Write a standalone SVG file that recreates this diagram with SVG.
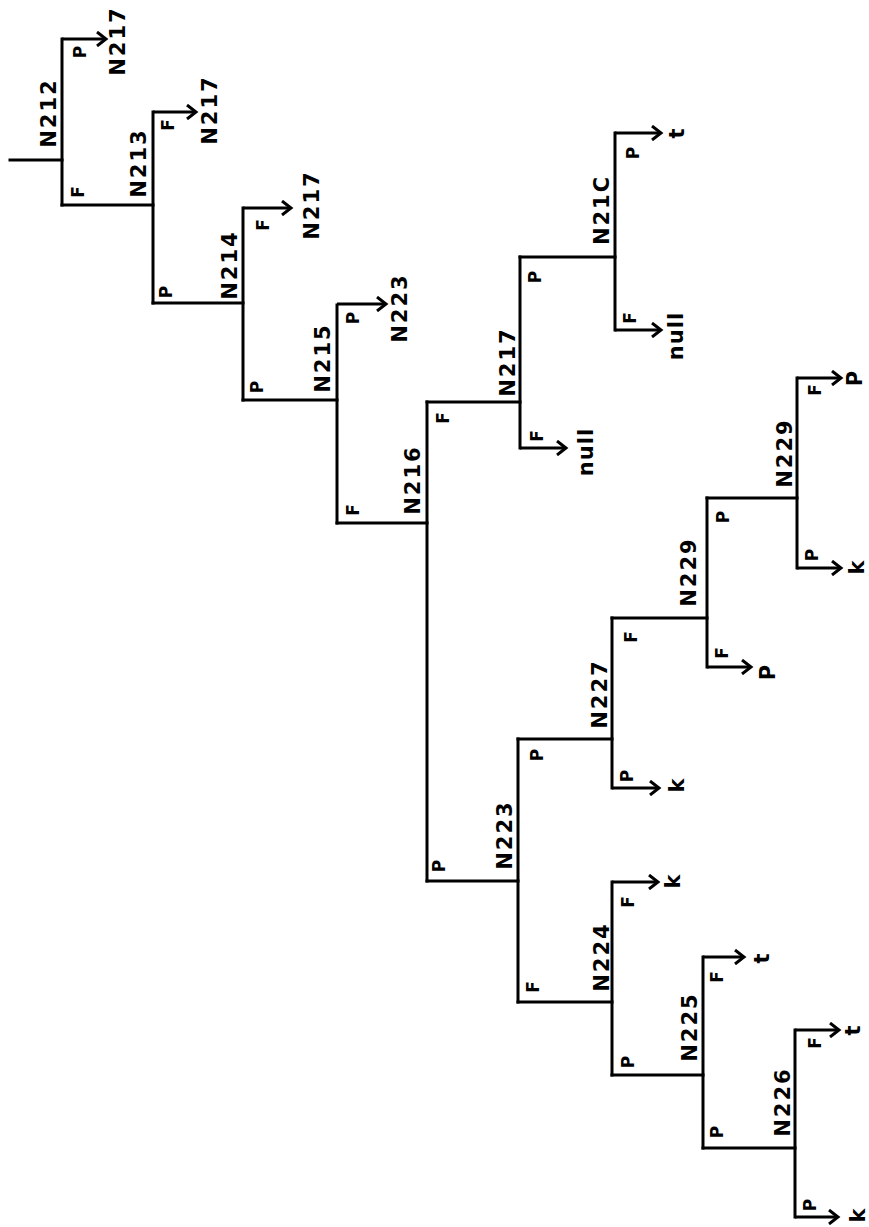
<svg xmlns="http://www.w3.org/2000/svg" width="869" height="1227" viewBox="0 0 869 1227">
<style>
.bg{fill:#fff}
.ln{stroke:#000;stroke-width:3;fill:none;stroke-linecap:square}
.ar{stroke:#000;stroke-width:3;fill:none;marker-end:url(#ah)}
.nl{font-family:"DejaVu Sans",sans-serif;font-weight:bold;font-size:21px;letter-spacing:2px;text-anchor:middle;dominant-baseline:central;fill:#000}
.bl{font-family:"DejaVu Sans",sans-serif;font-weight:bold;font-size:17px;text-anchor:middle;dominant-baseline:central;fill:#000}
.tl{font-family:"DejaVu Sans",sans-serif;font-weight:bold;font-size:21px;letter-spacing:1px;text-anchor:middle;dominant-baseline:central;fill:#000}
</style>
<defs>
<marker id="ah" markerUnits="userSpaceOnUse" markerWidth="14" markerHeight="16" refX="11" refY="8" orient="auto">
<path d="M2,1 L11,8 L2,15" stroke="#000" stroke-width="3" fill="none"/>
</marker>
</defs>
<rect class="bg" x="0" y="0" width="869" height="1227"/>
<g id="connectors">
<path class="ln" d="M10,160 H62"/>
<path class="ar" d="M62,39 H106"/>
<path class="ln" d="M62,205 H153"/>
<path class="ar" d="M153,112 H196"/>
<path class="ln" d="M153,303 H243"/>
<path class="ar" d="M243,208 H291"/>
<path class="ln" d="M243,400 H337"/>
<path class="ar" d="M337,304 H386"/>
<path class="ln" d="M337,523 H427"/>
<path class="ln" d="M427,402 H520"/>
<path class="ln" d="M427,881 H518"/>
<path class="ln" d="M520,257 H615"/>
<path class="ar" d="M520,448 H566"/>
<path class="ar" d="M615,133 H661"/>
<path class="ar" d="M615,330 H661"/>
<path class="ln" d="M518,739 H612"/>
<path class="ln" d="M518,1002 H612"/>
<path class="ln" d="M612,618 H707"/>
<path class="ar" d="M612,788 H659"/>
<path class="ln" d="M707,498 H797"/>
<path class="ar" d="M707,667 H751"/>
<path class="ar" d="M797,378 H841"/>
<path class="ar" d="M797,568 H841"/>
<path class="ar" d="M612,882 H658"/>
<path class="ln" d="M612,1075 H703"/>
<path class="ar" d="M703,957 H744"/>
<path class="ln" d="M703,1148 H795"/>
<path class="ar" d="M795,1030 H839"/>
<path class="ar" d="M795,1217 H838"/>
</g>
<g id="N212">
<path class="ln" d="M62,39 V205"/>
<text class="nl" transform="translate(49,113) rotate(-90)">N212</text>
<text class="bl" transform="translate(80,52) rotate(-90)">P</text>
<text class="bl" transform="translate(78,192) rotate(-90)">F</text>
</g>
<g id="N213">
<path class="ln" d="M153,112 V303"/>
<text class="nl" transform="translate(139,163) rotate(-90)">N213</text>
<text class="bl" transform="translate(168,125) rotate(-90)">F</text>
<text class="bl" transform="translate(166,292) rotate(-90)">P</text>
</g>
<g id="N214">
<path class="ln" d="M243,208 V400"/>
<text class="nl" transform="translate(230,265) rotate(-90)">N214</text>
<text class="bl" transform="translate(263,225) rotate(-90)">F</text>
<text class="bl" transform="translate(257,387) rotate(-90)">P</text>
</g>
<g id="N215">
<path class="ln" d="M337,305 V523"/>
<text class="nl" transform="translate(323,358) rotate(-90)">N215</text>
<text class="bl" transform="translate(353,318) rotate(-90)">P</text>
<text class="bl" transform="translate(353,510) rotate(-90)">F</text>
</g>
<g id="N216">
<path class="ln" d="M427,402 V881"/>
<text class="nl" transform="translate(413,480) rotate(-90)">N216</text>
<text class="bl" transform="translate(443,418) rotate(-90)">F</text>
<text class="bl" transform="translate(439,866) rotate(-90)">P</text>
</g>
<g id="N217">
<path class="ln" d="M520,257 V448"/>
<text class="nl" transform="translate(508,362) rotate(-90)">N217</text>
<text class="bl" transform="translate(535,277) rotate(-90)">P</text>
<text class="bl" transform="translate(537,436) rotate(-90)">F</text>
</g>
<g id="N21C">
<path class="ln" d="M615,133 V330"/>
<text class="nl" transform="translate(602,210) rotate(-90)">N21C</text>
<text class="bl" transform="translate(633,153) rotate(-90)">P</text>
<text class="bl" transform="translate(630,318) rotate(-90)">F</text>
</g>
<g id="N223">
<path class="ln" d="M518,739 V1002"/>
<text class="nl" transform="translate(505,835) rotate(-90)">N223</text>
<text class="bl" transform="translate(537,755) rotate(-90)">P</text>
<text class="bl" transform="translate(533,987) rotate(-90)">F</text>
</g>
<g id="N227">
<path class="ln" d="M612,618 V788"/>
<text class="nl" transform="translate(600,694) rotate(-90)">N227</text>
<text class="bl" transform="translate(631,637) rotate(-90)">F</text>
<text class="bl" transform="translate(627,776) rotate(-90)">P</text>
</g>
<g id="N229a">
<path class="ln" d="M707,498 V667"/>
<text class="nl" transform="translate(689,572) rotate(-90)">N229</text>
<text class="bl" transform="translate(723,517) rotate(-90)">P</text>
<text class="bl" transform="translate(722,653) rotate(-90)">F</text>
</g>
<g id="N229b">
<path class="ln" d="M797,378 V568"/>
<text class="nl" transform="translate(785,453) rotate(-90)">N229</text>
<text class="bl" transform="translate(815,390) rotate(-90)">F</text>
<text class="bl" transform="translate(812,555) rotate(-90)">P</text>
</g>
<g id="N224">
<path class="ln" d="M612,882 V1075"/>
<text class="nl" transform="translate(602,957) rotate(-90)">N224</text>
<text class="bl" transform="translate(628,902) rotate(-90)">F</text>
<text class="bl" transform="translate(628,1062) rotate(-90)">P</text>
</g>
<g id="N225">
<path class="ln" d="M703,957 V1148"/>
<text class="nl" transform="translate(690,1027) rotate(-90)">N225</text>
<text class="bl" transform="translate(717,977) rotate(-90)">F</text>
<text class="bl" transform="translate(717,1132) rotate(-90)">P</text>
</g>
<g id="N226">
<path class="ln" d="M795,1030 V1217"/>
<text class="nl" transform="translate(783,1102) rotate(-90)">N226</text>
<text class="bl" transform="translate(815,1043) rotate(-90)">F</text>
<text class="bl" transform="translate(810,1205) rotate(-90)">P</text>
</g>
<g id="targets">
<text class="nl" transform="translate(118,41) rotate(-90)">N217</text>
<text class="nl" transform="translate(210,110) rotate(-90)">N217</text>
<text class="nl" transform="translate(312,205) rotate(-90)">N217</text>
<text class="nl" transform="translate(400,308) rotate(-90)">N223</text>
<text class="tl" transform="translate(586,452) rotate(-90)">null</text>
<text class="tl" transform="translate(676,336) rotate(-90)">null</text>
<text class="tl" transform="translate(677,133) rotate(-90)">t</text>
<text class="tl" transform="translate(762,958) rotate(-90)">t</text>
<text class="tl" transform="translate(853,1030) rotate(-90)">t</text>
<text class="tl" transform="translate(677,785) rotate(-90)">k</text>
<text class="tl" transform="translate(673,881) rotate(-90)">k</text>
<text class="tl" transform="translate(857,567) rotate(-90)">k</text>
<text class="tl" transform="translate(858,1215) rotate(-90)">k</text>
<text class="tl" transform="translate(768,672) rotate(-90)">P</text>
<text class="tl" transform="translate(855,378) rotate(-90)">P</text>
</g>
</svg>
